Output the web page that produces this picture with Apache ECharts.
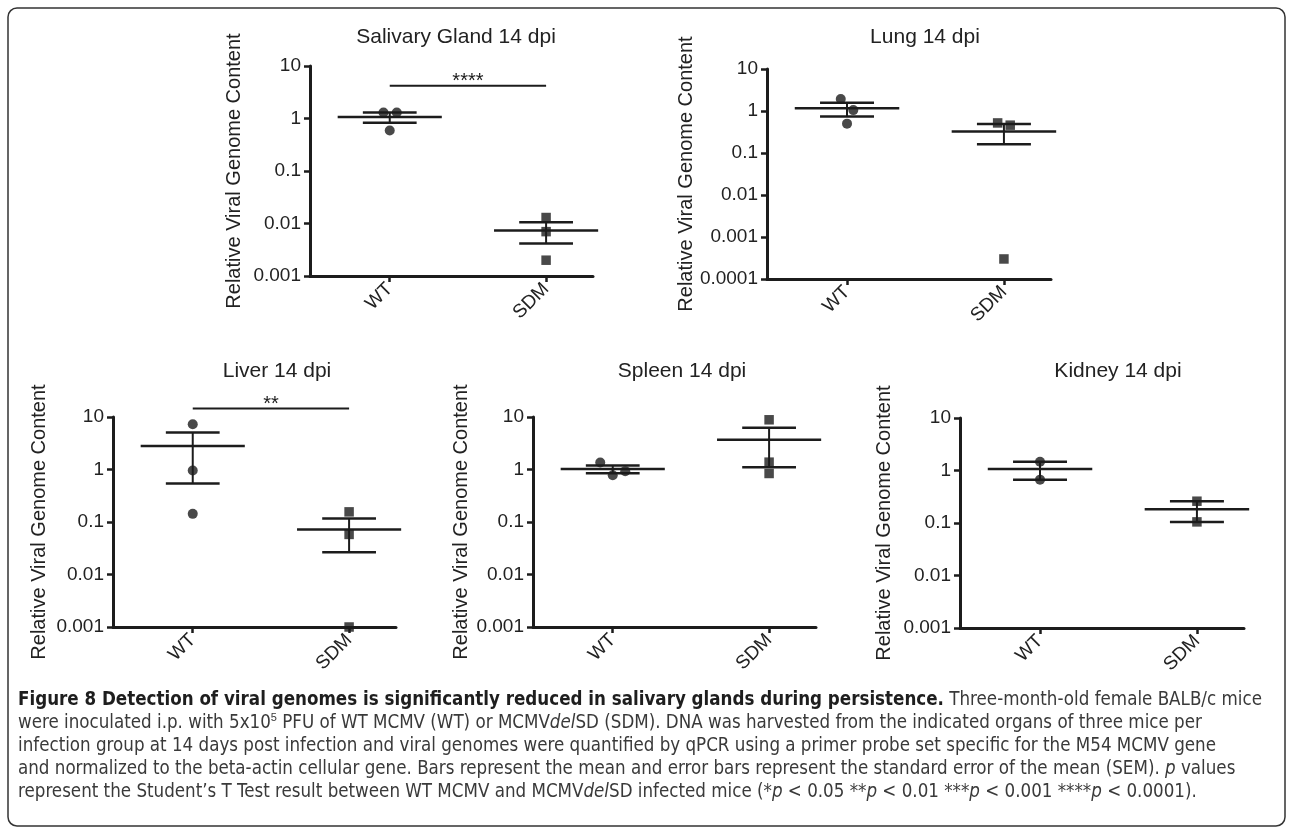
<!DOCTYPE html>
<html>
<head>
<meta charset="utf-8">
<script src="https://cdn.jsdelivr.net/npm/echarts@6/dist/echarts.min.js"></script>
<style>
  html, body { margin: 0; padding: 0; background: #fff; }
  #main { width: 1290px; height: 831px; }
</style>
</head>
<body>
<div id="main"></div>
<script>
// groups and panel titles
var groups = ['WT', 'SDM'];
var panelTitles = ['Salivary Gland 14 dpi', 'Lung 14 dpi', 'Liver 14 dpi', 'Spleen 14 dpi', 'Kidney 14 dpi'];
var yAxisTitle = 'Relative Viral Genome Content';
var tickLabels = ['0.0001', '0.001', '0.01', '0.1', '1', '10'];
var yMins = [0.001, 0.0001, 0.001, 0.001, 0.001];
var yMaxs = [10, 10, 10, 10, 10];

// points: [x position (1 = WT, 2 = SDM, with jitter), value]
var salivaryWT = [[0.96, 1.3], [1.045, 1.3], [1.0, 0.59]];
var salivarySDM = [[2.0, 0.013], [2.0, 0.007], [2.0, 0.002]];
var lungWT = [[0.96, 1.93], [1.04, 1.05], [1.0, 0.5]];
var lungSDM = [[1.96, 0.52], [2.04, 0.46], [2.0, 0.0003]];
var liverWT = [[1.0, 7.3], [1.0, 0.96], [1.0, 0.143]];
var liverSDM = [[2.0, 0.156], [2.0, 0.058], [2.0, 0.001]];
var spleenWT = [[0.92, 1.36], [1.0, 0.78], [1.08, 0.93]];
var spleenSDM = [[2.0, 8.85], [2.0, 1.38], [2.0, 0.84]];
var kidneyWT = [[1.0, 1.47], [1.0, 0.67]];
var kidneySDM = [[2.0, 0.26], [2.0, 0.105]];

// significance bars
var sigText = ['****', '', '**', '', ''];
var sigLevel = [4.2, null, 14.5, null, null];

var caption = [
  '{b|Figure 8 Detection of viral genomes is significantly reduced in salivary glands during persistence.} Three-month-old female BALB/c mice',
  'were inoculated i.p. with 5x10{sup|5} PFU of WT MCMV (WT) or MCMV{i|del}SD (SDM). DNA was harvested from the indicated organs of three mice per',
  'infection group at 14 days post infection and viral genomes were quantified by qPCR using a primer probe set specific for the M54 MCMV gene',
  'and normalized to the beta-actin cellular gene. Bars represent the mean and error bars represent the standard error of the mean (SEM). {i|p} values',
  'represent the Student\u2019s T Test result between WT MCMV and MCMV{i|del}SD infected mice (*{i|p} < 0.05 **{i|p} < 0.01 ***{i|p} < 0.001 ****{i|p} < 0.0001).'
];

var wtData = [salivaryWT, lungWT, liverWT, spleenWT, kidneyWT];
var sdmData = [salivarySDM, lungSDM, liverSDM, spleenSDM, kidneySDM];

// layout of the five panels
var panels = [
  {left: 310, top: 66, width: 283, height: 210, gap: 66, tx: 456, ty: 37},
  {left: 767, top: 69, width: 284, height: 210, gap: 71, tx: 925, ty: 37},
  {left: 113, top: 417, width: 283, height: 210, gap: 64, tx: 277, ty: 371},
  {left: 533, top: 417, width: 283, height: 210, gap: 62, tx: 682, ty: 371},
  {left: 960, top: 418, width: 284, height: 210, gap: 66, tx: 1118, ty: 371}
];

var INK = '#1c1c1c';
var FONT = '"Liberation Sans", Arial, Helvetica, sans-serif';
var CAPFONT = '"DejaVu Sans Condensed", "Liberation Sans", sans-serif';

function meanSem(pts) {
  var v = pts.map(function (p) { return p[1]; });
  var n = v.length;
  var m = v.reduce(function (a, b) { return a + b; }, 0) / n;
  var ss = v.reduce(function (a, b) { return a + (b - m) * (b - m); }, 0);
  var sd = Math.sqrt(ss / (n - 1));
  return [m, sd / Math.sqrt(n)];
}

function errRender(params, api) {
  var x = api.value(0), m = api.value(1), s = api.value(2);
  var lo = Math.max(m - s, 1e-9), hi = m + s;
  var a = api.coord([x - 0.333, m]), b = api.coord([x + 0.333, m]);
  var u1 = api.coord([x - 0.172, hi]), u2 = api.coord([x + 0.172, hi]);
  var l1 = api.coord([x - 0.172, lo]), l2 = api.coord([x + 0.172, lo]);
  var st = {stroke: INK, lineWidth: 2.5};
  return {
    type: 'group',
    children: [
      {type: 'line', shape: {x1: a[0], y1: a[1], x2: b[0], y2: b[1]}, style: st},
      {type: 'line', shape: {x1: u1[0], y1: u1[1], x2: u2[0], y2: u2[1]}, style: st},
      {type: 'line', shape: {x1: l1[0], y1: l1[1], x2: l2[0], y2: l2[1]}, style: st},
      {type: 'line', shape: {x1: (u1[0] + u2[0]) / 2, y1: u1[1], x2: (l1[0] + l2[0]) / 2, y2: l1[1]},
        style: {stroke: INK, lineWidth: 2}}
    ]
  };
}

function sigRender(params, api) {
  var p1 = api.coord([api.value(0), api.value(2)]);
  var p2 = api.coord([api.value(1), api.value(2)]);
  return {
    type: 'group',
    children: [
      {type: 'line', shape: {x1: p1[0], y1: p1[1], x2: p2[0], y2: p2[1]}, style: {stroke: INK, lineWidth: 2}},
      {type: 'text', style: {x: (p1[0] + p2[0]) / 2, y: p1[1] + 6, text: sigText[api.value(3)],
        align: 'center', verticalAlign: 'bottom', fontSize: 20, fontFamily: FONT, fill: INK}}
    ]
  };
}

var grid = [], xAxis = [], yAxis = [], series = [], graphic = [];

panels.forEach(function (p, i) {
  grid.push({left: p.left, top: p.top, width: p.width, height: p.height, containLabel: false});
  xAxis.push({
    type: 'value', gridIndex: i, min: 0.49, max: 2.3,
    axisLine: {show: true, onZero: false, lineStyle: {color: INK, width: 3}},
    axisTick: {show: true, customValues: [1, 2], length: 6, lineStyle: {color: INK, width: 2.5}},
    axisLabel: {show: true, customValues: [1, 2], rotate: 45, margin: 10, fontSize: 19, fontFamily: FONT, color: '#222',
      formatter: function (v) { return groups[Math.round(v) - 1] || ''; }},
    splitLine: {show: false}
  });
  yAxis.push({
    type: 'log', logBase: 10, gridIndex: i, min: yMins[i], max: yMaxs[i],
    name: yAxisTitle, nameLocation: 'middle', nameRotate: 90, nameGap: p.gap,
    nameTextStyle: {fontSize: 20, fontFamily: FONT, color: '#222'},
    axisLine: {show: true, lineStyle: {color: INK, width: 3}},
    axisTick: {show: true, length: 6, lineStyle: {color: INK, width: 2.5}},
    axisLabel: {fontSize: 19, fontFamily: FONT, color: '#222', margin: 9,
      formatter: function (v) {
        for (var k = 0; k < tickLabels.length; k++) {
          if (Math.abs(Math.log10(v) - Math.log10(Number(tickLabels[k]))) < 1e-6) return tickLabels[k];
        }
        return '';
      }},
    splitLine: {show: false}
  });

  var w = meanSem(wtData[i]), s = meanSem(sdmData[i]);
  series.push({
    type: 'custom', xAxisIndex: i, yAxisIndex: i, renderItem: errRender, clip: false,
    data: [[1, w[0], w[1]], [2, s[0], s[1]]], silent: true
  });
  series.push({
    type: 'scatter', xAxisIndex: i, yAxisIndex: i, data: wtData[i], symbol: 'circle', symbolSize: 10,
    itemStyle: {color: INK}, clip: false, z: 5
  });
  series.push({
    type: 'scatter', xAxisIndex: i, yAxisIndex: i, data: sdmData[i], symbol: 'rect', symbolSize: 9.5,
    itemStyle: {color: INK}, clip: false, z: 5
  });
  if (sigLevel[i] !== null) {
    series.push({
      type: 'custom', xAxisIndex: i, yAxisIndex: i, clip: false, silent: true,
      renderItem: sigRender,
      data: [[1, 2, sigLevel[i], i]]
    });
  }
  graphic.push({
    type: 'text', style: {x: p.tx, y: p.ty, text: panelTitles[i], align: 'center', verticalAlign: 'middle',
      fontSize: 21, fontFamily: FONT, fill: '#222'}
  });
});

// outer frame
graphic.push({
  type: 'rect', shape: {x: 8, y: 8, width: 1277, height: 818, r: 9},
  style: {fill: 'none', stroke: '#333', lineWidth: 1.5}, silent: true
});

// caption
caption.forEach(function (line, k) {
  graphic.push({
    type: 'text',
    style: {
      x: 18, y: 700 + k * 23, text: line, align: 'left', verticalAlign: 'middle',
      fontSize: 18.6, fontFamily: CAPFONT, fill: '#3a3a3a', lineHeight: 22,
      rich: {
        b: {fontWeight: 'bold', fill: '#1e1e1e', fontSize: 18.6, fontFamily: CAPFONT},
        i: {fontStyle: 'italic', fill: '#3a3a3a', fontSize: 18.6, fontFamily: CAPFONT},
        sup: {fontSize: 11, verticalAlign: 'top', fill: '#3a3a3a', lineHeight: 22}
      }
    }
  });
});

var chart = echarts.init(document.getElementById('main'));
chart.setOption({
  backgroundColor: '#fff',
  animation: false,
  grid: grid,
  xAxis: xAxis,
  yAxis: yAxis,
  series: series,
  graphic: graphic
});
</script>
</body>
</html>
